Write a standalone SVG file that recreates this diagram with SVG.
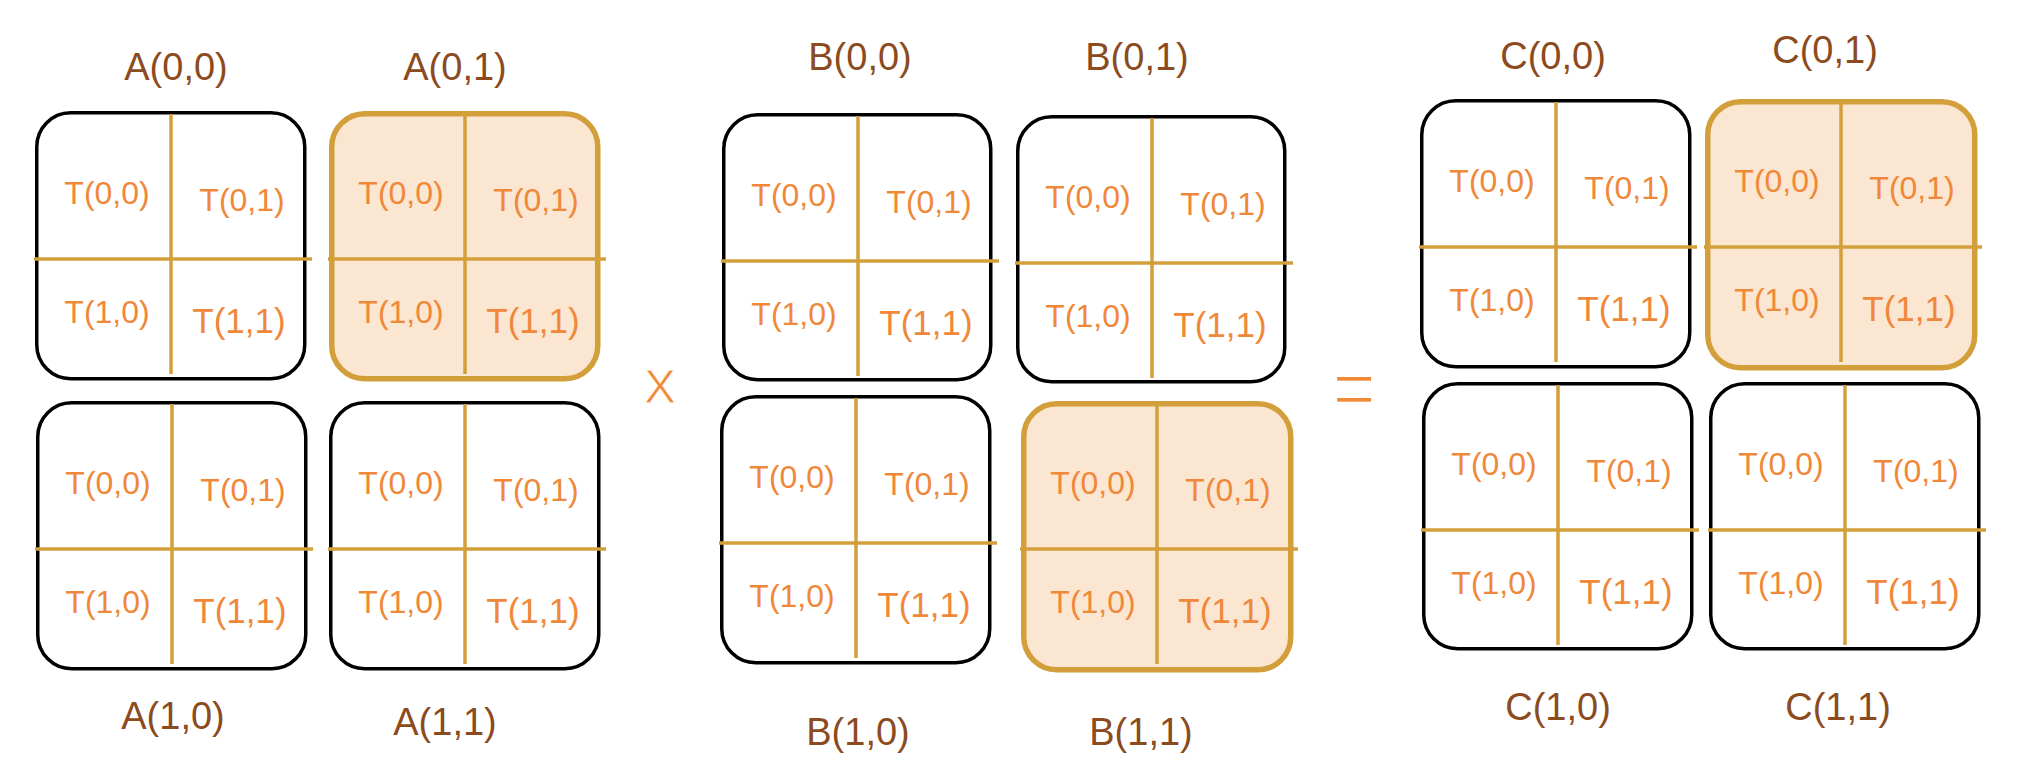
<svg xmlns="http://www.w3.org/2000/svg" width="2020" height="772" viewBox="0 0 2020 772">
<defs>
<style>
.box{fill:#ffffff;stroke:#000000;stroke-width:3.5}
.hl{fill:#FBE6D1;stroke:#D39F3B;stroke-width:5.5}
.div{stroke:#D39F3B;stroke-width:3.5;fill:none}
.t{font-family:"Liberation Sans",Arial,sans-serif;font-size:32px;fill:#F0883A;text-anchor:middle}
.t11{font-size:35px}
.lbl{font-family:"Liberation Sans",Arial,sans-serif;font-size:38px;fill:#8C4B1E;text-anchor:middle}
.op{font-family:"Liberation Sans",Arial,sans-serif;fill:#F08A36;text-anchor:middle;stroke:#ffffff;paint-order:normal}
</style>
<g id="cells">
<line class="div" x1="136" y1="3" x2="136" y2="263"/>
<line class="div" x1="-1" y1="148" x2="277" y2="148"/>
<text class="t" x="72" y="93">T(0,0)</text>
<text class="t" x="207" y="100">T(0,1)</text>
<text class="t" x="72" y="212">T(1,0)</text>
<text class="t t11" x="204" y="222">T(1,1)</text>
</g>
</defs>
<g id="A00" transform="translate(35,111)"><rect class="box" x="1.75" y="1.75" width="268" height="266" rx="34"/><use href="#cells"/></g>
<g id="A01" transform="translate(329,111)"><rect class="hl" x="2.75" y="2.75" width="266" height="265" rx="33"/><use href="#cells"/></g>
<g id="A10" transform="translate(36,401)"><rect class="box" x="1.75" y="1.75" width="268" height="266" rx="34"/><use href="#cells"/></g>
<g id="A11" transform="translate(329,401)"><rect class="box" x="1.75" y="1.75" width="268" height="266" rx="34"/><use href="#cells"/></g>
<g id="B00" transform="translate(722,113)"><rect class="box" x="1.75" y="1.75" width="267" height="265" rx="34"/><use href="#cells"/></g>
<g id="B01" transform="translate(1016,115)"><rect class="box" x="1.75" y="1.75" width="267" height="265" rx="34"/><use href="#cells"/></g>
<g id="B10" transform="translate(720,395)"><rect class="box" x="1.75" y="1.75" width="268" height="266" rx="34"/><use href="#cells"/></g>
<g id="B11" transform="translate(1021,401)"><rect class="hl" x="2.75" y="2.75" width="267" height="266" rx="33"/><use href="#cells"/></g>
<g id="C00" transform="translate(1420,99)"><rect class="box" x="1.75" y="1.75" width="268" height="266" rx="34"/><use href="#cells"/></g>
<g id="C01" transform="translate(1705,99)"><rect class="hl" x="2.75" y="2.75" width="267" height="266" rx="33"/><use href="#cells"/></g>
<g id="C10" transform="translate(1422,382)"><rect class="box" x="1.75" y="1.75" width="268" height="265" rx="34"/><use href="#cells"/></g>
<g id="C11" transform="translate(1709,382)"><rect class="box" x="1.75" y="1.75" width="268" height="265" rx="34"/><use href="#cells"/></g>
<g id="labels">
<text class="lbl" x="176" y="80">A(0,0)</text>
<text class="lbl" x="455" y="80">A(0,1)</text>
<text class="lbl" x="173" y="729">A(1,0)</text>
<text class="lbl" x="445" y="735">A(1,1)</text>
<text class="lbl" x="860" y="70">B(0,0)</text>
<text class="lbl" x="1137" y="70">B(0,1)</text>
<text class="lbl" x="858" y="745">B(1,0)</text>
<text class="lbl" x="1141" y="745">B(1,1)</text>
<text class="lbl" x="1553" y="69">C(0,0)</text>
<text class="lbl" x="1825" y="63">C(0,1)</text>
<text class="lbl" x="1558" y="720">C(1,0)</text>
<text class="lbl" x="1838" y="720">C(1,1)</text>
</g>
<g id="operators">
<text class="op" x="660" y="403" font-size="48" stroke-width="0.8">X</text>
<text class="op" x="1354" y="417" font-size="74" stroke-width="2" transform="translate(1354 417) scale(1 1.15) translate(-1354 -417)">=</text>
</g>
<g id="connectors"></g>
</svg>
